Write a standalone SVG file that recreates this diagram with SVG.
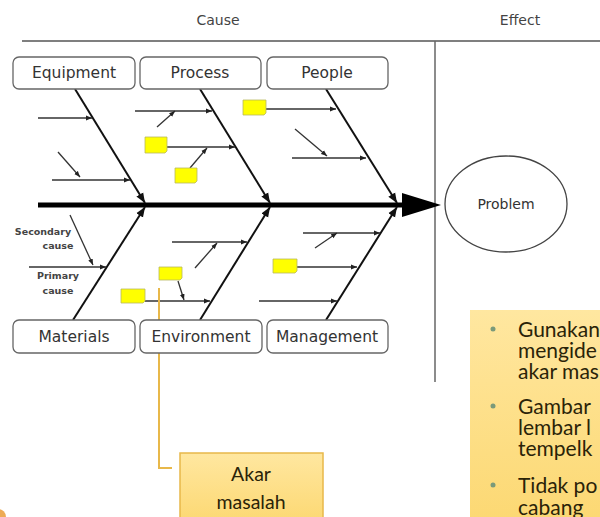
<svg xmlns="http://www.w3.org/2000/svg" width="600" height="517" viewBox="0 0 600 517">
<defs>
<marker id="ah" viewBox="0 0 10 10" refX="10" refY="5" markerWidth="6" markerHeight="6" orient="auto" markerUnits="userSpaceOnUse"><path d="M0,1 L10,5 L0,9 z" fill="#222"/></marker>
<marker id="ahb" viewBox="0 0 10 10" refX="10" refY="5" markerWidth="10" markerHeight="10" orient="auto" markerUnits="userSpaceOnUse"><path d="M0,1 L10,5 L0,9 z" fill="#111"/></marker>
<linearGradient id="gold" x1="0" y1="0" x2="0" y2="1"><stop offset="0" stop-color="#FFE7A0"/><stop offset="1" stop-color="#FCD872"/></linearGradient>
</defs>
<style>
.hdr{font-family:"DejaVu Sans",sans-serif;font-size:14px;fill:#444;text-anchor:middle}
.box{fill:#fff;stroke:#666;stroke-width:1.3}
.lbl{font-family:"DejaVu Sans",sans-serif;font-size:15.5px;fill:#333;text-anchor:middle}
.bone{stroke:#111;stroke-width:2;fill:none;marker-end:url(#ahb)}
.sub{stroke:#333;stroke-width:1.3;fill:none;marker-end:url(#ah)}
.note{fill:#ffff00;stroke:#b8b860;stroke-width:0.8}
.small{font-family:"DejaVu Sans",sans-serif;font-size:9.5px;font-weight:bold;fill:#444;text-anchor:middle}
.gill{font-family:"Lato","Open Sans",sans-serif;font-size:21px;fill:#2a2308}
</style>
<rect width="600" height="517" fill="#fff"/>
<g id="header">
<text class="hdr" x="218" y="25">Cause</text>
<text class="hdr" x="520" y="25">Effect</text>
<line x1="22" y1="41" x2="600" y2="41" stroke="#555" stroke-width="1.3"/>
<line x1="435" y1="41" x2="435" y2="382" stroke="#666" stroke-width="1.5"/>
</g>
<g id="connectors">
<line x1="38" y1="205" x2="408" y2="205" stroke="#000" stroke-width="5"/>
<path d="M402,193 L441,205 L402,217 z" fill="#000"/>
<line class="bone" x1="75" y1="89" x2="145" y2="203"/>
<line class="bone" x1="200" y1="89" x2="270" y2="203"/>
<line class="bone" x1="326" y1="89" x2="397" y2="203"/>
<line class="bone" x1="73" y1="320" x2="145" y2="207"/>
<line class="bone" x1="200" y1="320" x2="270" y2="207"/>
<line class="bone" x1="326" y1="320" x2="397" y2="207"/>
<line class="sub" x1="38" y1="118" x2="92" y2="118"/>
<line class="sub" x1="52" y1="180" x2="130" y2="180"/>
<line class="sub" x1="58" y1="152" x2="80" y2="177"/>
<line class="sub" x1="135" y1="111" x2="212" y2="111"/>
<line class="sub" x1="157" y1="127" x2="175" y2="111"/>
<line class="sub" x1="167" y1="147" x2="235" y2="147"/>
<line class="sub" x1="190" y1="168" x2="207" y2="148"/>
<line class="sub" x1="266" y1="109" x2="336" y2="109"/>
<line class="sub" x1="292" y1="158" x2="366" y2="158"/>
<line class="sub" x1="295" y1="129" x2="327" y2="156"/>
<line class="sub" x1="29" y1="267" x2="106" y2="267"/>
<line class="sub" x1="70" y1="215" x2="93" y2="265"/>
<line class="sub" x1="172" y1="242" x2="247" y2="242"/>
<line class="sub" x1="195" y1="268" x2="217" y2="243"/>
<line class="sub" x1="178" y1="281" x2="184" y2="300"/>
<line class="sub" x1="145" y1="301" x2="210" y2="301"/>
<line class="sub" x1="303" y1="233" x2="380" y2="233"/>
<line class="sub" x1="315" y1="248" x2="337" y2="233"/>
<line class="sub" x1="297" y1="267" x2="357" y2="267"/>
<line class="sub" x1="259" y1="301" x2="337" y2="301"/>
<polyline points="159,288 159,468 172,468" fill="none" stroke="#E8B84A" stroke-width="2"/>
</g>
<g id="notes">
<path class="note" d="M145,137 H167 V151 L165,153 H145 z"/>
<path class="note" d="M175,168 H197 V181 L195,183 H175 z"/>
<path class="note" d="M243,100 H266 V113 L264,115 H243 z"/>
<path class="note" d="M121,289 H145 V301 L143,303 H121 z"/>
<path class="note" d="M159,267 H182 V278 L180,280 H159 z"/>
<path class="note" d="M273,259 H297 V271 L295,273 H273 z"/>
</g>
<g id="equipment"><rect class="box" x="13" y="57" width="122" height="32" rx="6"/><text class="lbl" x="74" y="78">Equipment</text></g>
<g id="process"><rect class="box" x="140" y="57" width="121" height="32" rx="6"/><text class="lbl" x="200" y="78">Process</text></g>
<g id="people"><rect class="box" x="267" y="57" width="121" height="32" rx="6"/><text class="lbl" x="327" y="78">People</text></g>
<g id="materials"><rect class="box" x="13" y="320" width="122" height="33" rx="6"/><text class="lbl" x="74" y="342">Materials</text></g>
<g id="environment"><rect class="box" x="140" y="320" width="122" height="33" rx="6"/><text class="lbl" x="201" y="342">Environment</text></g>
<g id="management"><rect class="box" x="267" y="320" width="121" height="33" rx="6"/><text class="lbl" x="327" y="342">Management</text></g>
<g id="labels">
<text class="small" x="43" y="235">Secondary</text>
<text class="small" x="58" y="249">cause</text>
<text class="small" x="58" y="279">Primary</text>
<text class="small" x="58" y="294">cause</text>
</g>
<g id="problem"><ellipse cx="506" cy="204" rx="61" ry="48" fill="#fff" stroke="#444" stroke-width="1.3"/><text class="lbl" x="506" y="209" style="font-size:14px">Problem</text></g>
<g id="akar">
<rect x="180" y="453" width="143" height="70" fill="url(#gold)" stroke="#E8B84A" stroke-width="1.5"/>
<text class="gill" x="251" y="481" text-anchor="middle" style="font-size:19.5px">Akar</text>
<text class="gill" x="251" y="509" text-anchor="middle" style="font-size:19.5px">masalah</text>
</g>
<g id="tips">
<rect x="470" y="310" width="140" height="215" fill="url(#gold)"/>
<g fill="#7a9a7a"><circle cx="493" cy="329" r="2.5"/><circle cx="493" cy="406" r="2.5"/><circle cx="493" cy="485" r="2.5"/></g>
<text class="gill" x="518" y="337">Gunakan</text>
<text class="gill" x="518" y="358">mengide</text>
<text class="gill" x="518" y="379">akar mas</text>
<text class="gill" x="518" y="414">Gambar</text>
<text class="gill" x="518" y="435">lembar l</text>
<text class="gill" x="518" y="456">tempelk</text>
<text class="gill" x="518" y="493">Tidak po</text>
<text class="gill" x="518" y="515">cabang</text>
</g>
<circle cx="-2" cy="517" r="8" fill="#E8962A" opacity="0.8"/>
</svg>
